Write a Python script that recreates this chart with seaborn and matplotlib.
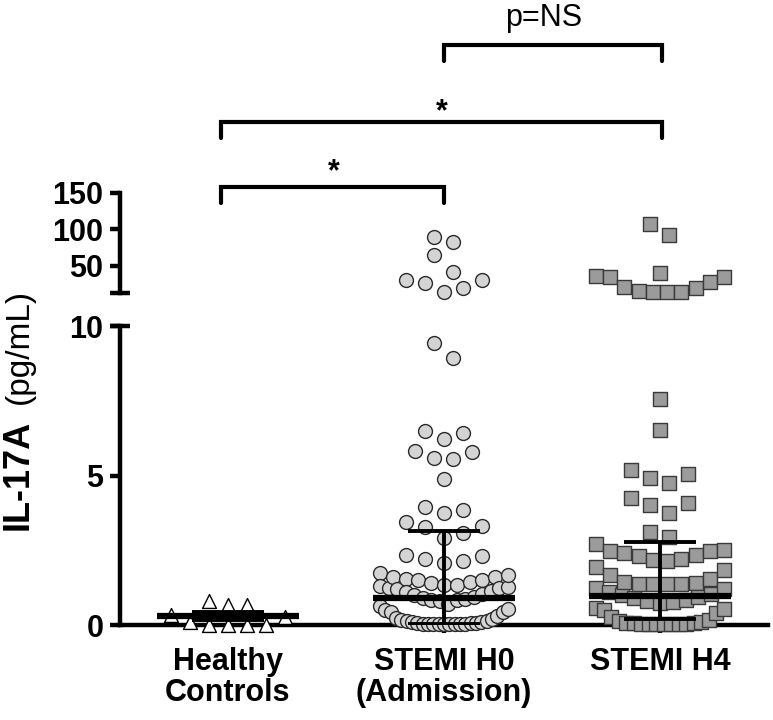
import numpy as np
import pandas as pd
import matplotlib.pyplot as plt
import matplotlib.transforms as mtransforms
import seaborn as sns

# Values (pg/mL)
groups = ["Healthy\nControls", "STEMI H0\n(Admission)", "STEMI H4"]

healthy = [0.0, 0.0, 0.0, 0.0, 0.1, 0.27, 0.33, 0.67, 0.67, 0.8]

stemi_h0 = [89, 83, 65, 42, 31, 31, 27, 20, 14,
            9.43, 8.93,
            6.50, 6.41, 6.21, 5.82, 5.80, 5.57, 5.54, 4.90,
            3.94, 3.85, 3.74, 3.45, 3.31, 3.27, 3.09, 2.90,
            2.34, 2.31, 2.20, 2.15, 2.06,
            1.74, 1.67, 1.62, 1.60, 1.53, 1.50, 1.50, 1.45, 1.40, 1.34, 1.33,
            1.30, 1.27, 1.25, 1.24, 1.20, 1.15, 1.10, 1.05, 1.00, 0.95, 0.92,
            0.88, 0.85, 0.83, 0.80, 0.70,
            0.62, 0.55, 0.50, 0.45, 0.42, 0.30, 0.25, 0.20, 0.17, 0.15, 0.12,
            0.10, 0.09, 0.08, 0.07, 0.06, 0.05, 0.05, 0.04, 0.04, 0.03, 0.03,
            0.02, 0.02, 0.02]

stemi_h4 = [107.5, 92.5, 40.4, 36.3, 35, 35, 28, 21, 20, 16, 14.5, 14.5, 14.5,
            7.56, 6.52,
            5.18, 5.05, 4.92, 4.75, 4.25, 4.08, 4.01, 3.75, 3.11, 2.94,
            2.71, 2.51, 2.49, 2.49, 2.40, 2.34, 2.31, 2.20, 2.17, 2.14,
            1.94, 1.84, 1.67, 1.54, 1.44, 1.40, 1.37, 1.36, 1.36, 1.36,
            1.24, 1.20, 1.10, 1.05, 1.00, 0.95, 0.90, 0.85, 0.80, 0.77, 0.73,
            0.58, 0.55, 0.50, 0.40, 0.27, 0.17, 0.12, 0.10, 0.08, 0.07, 0.06,
            0.05, 0.05, 0.04, 0.04, 0.03, 0.03, 0.02]

# median with interquartile range, as drawn
medians = [0.30, 0.90, 0.97]
q1 = [0.17, 0.05, 0.20]
q3 = [0.45, 3.14, 2.79]

markers = ["^", "o", "s"]
fills = ["white", "#d4d4d4", "#9b9b9b"]
edges = ["black", "#2a2a2a", "#3a3a3a"]

sns.set_theme(style="ticks", rc={"axes.edgecolor": "black", "xtick.color": "black",
                                 "ytick.color": "black", "text.color": "black",
                                 "axes.labelcolor": "black"})
plt.rcParams["font.family"] = ["Liberation Sans", "DejaVu Sans"]

fig = plt.figure(figsize=(7.73, 7.2), dpi=100)
ax_top = fig.add_axes([0.1552, 0.5931, 0.8383, 0.1389])
ax_low = fig.add_axes([0.1552, 0.1319, 0.8383, 0.4153])

for ax, lim in [(ax_low, (0, 10)), (ax_top, (13, 150))]:
    ax.set_xlim(-0.5, 2.5)
    ax.set_ylim(*lim)


def spread(values, ax, step_px=19, half_px=64, bin_px=18.5):
    # column scatter like Prism: rows of close values, lowest in the middle
    y0, y1 = ax.get_ylim()
    x0, x1 = ax.get_xlim()
    bin_h = bin_px * (y1 - y0) / ax.bbox.height
    step = step_px * (x1 - x0) / ax.bbox.width
    half = half_px * (x1 - x0) / ax.bbox.width
    order = np.argsort(values, kind="stable")
    offs = np.zeros(len(values))
    i = 0
    while i < len(order):
        j = i
        while j < len(order) and values[order[j]] - values[order[i]] <= bin_h:
            j += 1
        n = j - i
        sp = step if n == 1 else min(step, 2 * half / (n - 1))
        if n % 2:
            slots = [0] + [s * k for k in range(1, n // 2 + 1) for s in (1, -1)]
        else:
            slots = [s * (k - 0.5) for k in range(1, n // 2 + 1) for s in (1, -1)]
        offs[order[i:j]] = np.array(slots[:n]) * sp
        i = j
    return offs


df = pd.DataFrame({
    "group": np.repeat([0, 1, 2], [len(healthy), len(stemi_h0), len(stemi_h4)]),
    "value": healthy + stemi_h0 + stemi_h4,
})
df["panel"] = np.where(df["value"] > 10, "top", "low")

for (panel, g), sub in df.groupby(["panel", "group"]):
    ax = ax_top if panel == "top" else ax_low
    sub = sub.assign(x=g + spread(sub["value"].to_numpy(), ax)).sort_values("x")
    sns.scatterplot(data=sub, x="x", y="value", marker=markers[g], s=100,
                    color=fills[g], edgecolor=edges[g], linewidth=1.0,
                    ax=ax, clip_on=False, zorder=3, legend=False)

# median + IQR bars
for i in range(3):
    ax_low.hlines(medians[i], i - 0.33, i + 0.33, color="black", lw=4.5, zorder=4)
    ax_low.hlines([q1[i], q3[i]], i - 0.165, i + 0.165, color="black", lw=2.8, zorder=4)
    ax_low.vlines(i, q1[i], q3[i], color="black", lw=2.8, zorder=4)

for ax, lim in [(ax_low, (0, 10)), (ax_top, (13, 150))]:
    ax.set_xlim(-0.5, 2.5)
    ax.set_ylim(*lim)
    ax.set_xlabel("")
    ax.set_ylabel("")
    for s in ax.spines.values():
        s.set_linewidth(3.2)
    ax.tick_params(axis="y", width=3.2, length=7, pad=5)

sns.despine(ax=ax_low)
sns.despine(ax=ax_top, bottom=True)

ax_low.set_yticks([0, 5, 10], ["0", "5", "10"], fontsize=22, fontweight="bold")
ax_top.set_yticks([50, 100, 150], ["50", "100", "150"], fontsize=22, fontweight="bold")
ax_low.set_xticks([0, 1, 2], groups, fontsize=22, fontweight="bold", linespacing=1.05)
ax_low.tick_params(axis="x", width=3.2, length=6, pad=9.5)
ax_top.tick_params(axis="x", bottom=False, labelbottom=False)

# axis break marks
ax_low.plot([-0.016, 0.016], [10, 10], transform=ax_low.get_yaxis_transform(),
            color="black", lw=3.2, clip_on=False, solid_capstyle="butt")
ax_top.plot([-0.016, 0.016], [13, 13], transform=ax_top.get_yaxis_transform(),
            color="black", lw=3.2, clip_on=False, solid_capstyle="butt")

# significance brackets
blend = mtransforms.blended_transform_factory(ax_top.transData, fig.transFigure)
H = 720


def fy(px):
    return 1 - px / H


for x0, x1, top in [(-0.03, 1.0, 187), (-0.03, 2.01, 122), (1.0, 2.01, 45)]:
    ax_top.plot([x0, x0, x1, x1], [fy(top + 16), fy(top), fy(top), fy(top + 16)],
                transform=blend, color="black", lw=3, clip_on=False,
                solid_joinstyle="miter")

ax_top.text(0.49, fy(180), "*", transform=blend, ha="center", va="baseline",
            fontsize=22, fontweight="bold")
ax_top.text(0.99, fy(120), "*", transform=blend, ha="center", va="baseline",
            fontsize=22, fontweight="bold")
ax_top.text(1.46, fy(26), "p=NS", transform=blend, ha="center", va="baseline",
            fontsize=22)

# y label: bold analyte + plain unit
fig.text(28 / 773, fy(530), "IL-17A", rotation=90, rotation_mode="anchor",
         ha="left", va="baseline", fontsize=26, fontweight="bold")
fig.text(28 / 773, fy(404), "(pg/mL)", rotation=90, rotation_mode="anchor",
         ha="left", va="baseline", fontsize=24)

fig.savefig("out.png", dpi=100)
